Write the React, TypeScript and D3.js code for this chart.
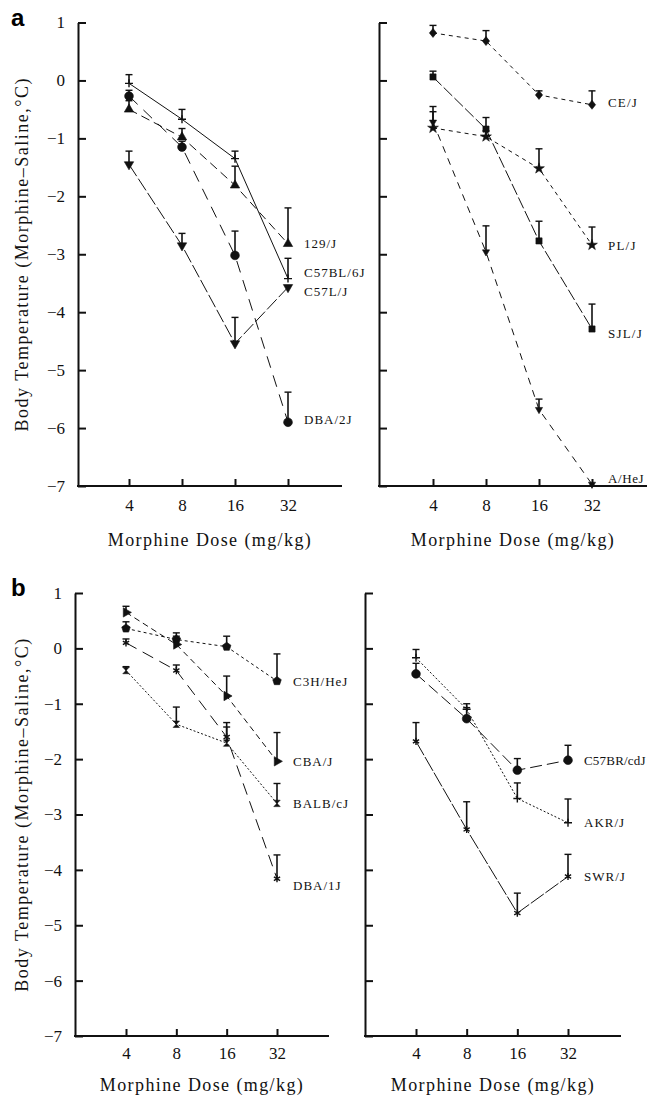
import React, { useEffect, useRef } from "react";
import * as d3 from "d3";

// doses on the x axis (mg/kg), log2 spaced
const doses = [4, 8, 16, 32];
const yTicks = [1, 0, -1, -2, -3, -4, -5, -6, -7];
const xTitle = "Morphine Dose (mg/kg)";
const yTitle = "Body Temperature (Morphine\u2013Saline,\u00B0C)";

// panel a, left
const mean129J = [-0.5, -0.98, -1.81, -2.82];
const sem129J = [0.15, 0.15, 0.33, 0.62];
const meanC57BL6J = [-0.05, -0.67, -1.35, -3.42];
const semC57BL6J = [0.15, 0.17, 0.13, 0.35];
const meanC57LJ = [-1.45, -2.85, -4.54, -3.57];
const semC57LJ = [0.23, 0.21, 0.45, 0];
const meanDBA2J = [-0.27, -1.15, -3.02, -5.9];
const semDBA2J = [0.1, 0.1, 0.42, 0.52];

// panel a, right
const meanCEJ = [0.82, 0.68, -0.25, -0.42];
const semCEJ = [0.13, 0.18, 0.07, 0.24];
const meanSJLJ = [0.06, -0.84, -2.77, -4.29];
const semSJLJ = [0.1, 0.2, 0.34, 0.43];
const meanPLJ = [-0.82, -0.97, -1.52, -2.84];
const semPLJ = [0.28, 0.1, 0.34, 0.31];
const meanAHeJ = [-0.72, -2.96, -5.68, -6.97];
const semAHeJ = [0.27, 0.45, 0.18, 0];

// panel b, left
const meanC3HHeJ = [0.36, 0.16, 0.03, -0.59];
const semC3HHeJ = [0.12, 0.12, 0.19, 0.49];
const meanCBAJ = [0.65, 0.07, -0.86, -2.04];
const semCBAJ = [0.11, 0.15, 0.36, 0.52];
const meanBALBcJ = [-0.4, -1.37, -1.71, -2.8];
const semBALBcJ = [0.07, 0.31, 0.29, 0.36];
const meanDBA1J = [0.1, -0.4, -1.6, -4.16];
const semDBA1J = [0.07, 0.1, 0.26, 0.43];

// panel b, right
const meanC57BRcdJ = [-0.46, -1.27, -2.2, -2.02];
const semC57BRcdJ = [0.19, 0.2, 0.21, 0.27];
const meanAKRJ = [-0.17, -1.1, -2.71, -3.15];
const semAKRJ = [0.15, 0.1, 0.28, 0.43];
const meanSWRJ = [-1.68, -3.27, -4.78, -4.12];
const semSWRJ = [0.34, 0.5, 0.36, 0.4];

const seriesA1 = [
  { name: "129/J", mean: mean129J, sem: sem129J },
  { name: "C57BL/6J", mean: meanC57BL6J, sem: semC57BL6J },
  { name: "C57L/J", mean: meanC57LJ, sem: semC57LJ },
  { name: "DBA/2J", mean: meanDBA2J, sem: semDBA2J },
];
const seriesA2 = [
  { name: "CE/J", mean: meanCEJ, sem: semCEJ },
  { name: "PL/J", mean: meanPLJ, sem: semPLJ },
  { name: "SJL/J", mean: meanSJLJ, sem: semSJLJ },
  { name: "A/HeJ", mean: meanAHeJ, sem: semAHeJ },
];
const seriesB1 = [
  { name: "C3H/HeJ", mean: meanC3HHeJ, sem: semC3HHeJ },
  { name: "CBA/J", mean: meanCBAJ, sem: semCBAJ },
  { name: "BALB/cJ", mean: meanBALBcJ, sem: semBALBcJ },
  { name: "DBA/1J", mean: meanDBA1J, sem: semDBA1J },
];
const seriesB2 = [
  { name: "C57BR/cdJ", mean: meanC57BRcdJ, sem: semC57BRcdJ },
  { name: "AKR/J", mean: meanAKRJ, sem: semAKRJ },
  { name: "SWR/J", mean: meanSWRJ, sem: semSWRJ },
];

// line dash, marker and label nudge per strain
const styles = {
  "129/J": { dash: "9,5", marker: "triUp", dy: 0, ls: 1 },
  "C57BL/6J": { dash: null, marker: "plus", dy: -6, ls: 1 },
  "C57L/J": { dash: "14,3", marker: "triDown", dy: 4, ls: 1 },
  "DBA/2J": { dash: "12,8", marker: "circle", dy: -3, ls: 1 },
  "CE/J": { dash: "4,4", marker: "diamond", dy: -2, ls: 1.2 },
  "PL/J": { dash: "4,4", marker: "star", dy: 0, ls: 1.2 },
  "SJL/J": { dash: "12,3", marker: "square", dy: 4, ls: 1.2 },
  "A/HeJ": { dash: "7,6", marker: "smallTri", dy: -6, ls: 0.6 },
  "C3H/HeJ": { dash: "3,3", marker: "pentagon", dy: 0, ls: 1 },
  "CBA/J": { dash: "6,4", marker: "triRight", dy: 0, ls: 1 },
  "BALB/cJ": { dash: "2,2", marker: "hourglass", dy: 0, ls: 1 },
  "DBA/1J": { dash: "12,7", marker: "asterisk", dy: 7, ls: 1 },
  "C57BR/cdJ": { dash: "12,5", marker: "circle", dy: 0, ls: 0.2 },
  "AKR/J": { dash: "2,2", marker: "plus", dy: 0, ls: 1 },
  "SWR/J": { dash: "16,2", marker: "asterisk", dy: 0, ls: 1 },
};

const panels = [
  { letter: "a", series: seriesA1, x0: 78, x1: 342, x4: 129, x32: 288, yTop: 22.5, yBot: 486, tickLabels: true, pad: 13, title: 60 },
  { letter: null, series: seriesA2, x0: 379, x1: 647, x4: 433, x32: 592, yTop: 22.5, yBot: 486, tickLabels: false, pad: 13, title: 60 },
  { letter: "b", series: seriesB1, x0: 75, x1: 329, x4: 126, x32: 277, yTop: 593, yBot: 1036, tickLabels: true, pad: 11, title: 55 },
  { letter: null, series: seriesB2, x0: 365, x1: 621, x4: 416, x32: 568, yTop: 593, yBot: 1036, tickLabels: false, pad: 11, title: 55 },
];

const serif = "'Liberation Serif', 'Times New Roman', serif";
const ink = "#111";

const markerPath = (kind) => {
  switch (kind) {
    case "triUp":
    case "triDown":
    case "triRight":
      return d3.symbol(d3.symbolTriangle, 38)();
    case "smallTri":
      return d3.symbol(d3.symbolTriangle, 22)();
    case "circle":
      return d3.symbol(d3.symbolCircle, 60)();
    case "square":
      return d3.symbol(d3.symbolSquare, 38)();
    case "diamond":
      return "M0,-4.5L3.6,0L0,4.5L-3.6,0Z";
    case "star":
      return d3.symbol(d3.symbolStar, 36)();
    case "plus":
      return "M-4,0H4M0,-4V4";
    case "asterisk":
      return d3.symbol(d3.symbolAsterisk, 36)();
    case "hourglass":
      return "M-3.2,-3.2H3.2L-3.2,3.2H3.2Z";
    case "pentagon": {
      const pts = d3.range(5).map((i) => {
        const a = -Math.PI / 2 + (i * 2 * Math.PI) / 5;
        return [4.5 * Math.cos(a), 4.5 * Math.sin(a)];
      });
      return d3.line()(pts) + "Z";
    }
    default:
      return d3.symbol(d3.symbolCircle, 30)();
  }
};

const markerRotate = { triDown: 180, triRight: 90, smallTri: 180 };
const strokeOnly = { plus: true, asterisk: true };

const App = () => {
  const svgRef = useRef(null);
  const width = 647;
  const height = 1099;

  useEffect(() => {
    const svg = d3.select(svgRef.current);
    svg.selectAll("*").remove();

    svg.append("rect").attr("width", width).attr("height", height).attr("fill", "#fff");

    panels.forEach((p) => {
      const g = svg.append("g");
      const x = d3.scaleLog().base(2).domain([4, 32]).range([p.x4, p.x32]);
      const y = d3.scaleLinear().domain([-7, 1]).range([p.yBot, p.yTop]);

      // y axis, ticks pointing inward
      const yAxis = g
        .append("g")
        .attr("transform", `translate(${p.x0},0)`)
        .call(
          d3
            .axisLeft(y)
            .tickValues(yTicks)
            .tickSizeInner(-8)
            .tickSizeOuter(0)
            .tickPadding(13)
            .tickFormat((d) => (p.tickLabels ? (d < 0 ? "\u2212" + Math.abs(d) : String(d)) : ""))
        );
      yAxis.select(".domain").attr("stroke", ink).attr("stroke-width", 2);
      yAxis.selectAll(".tick line").attr("stroke", ink).attr("stroke-width", 2);
      yAxis
        .selectAll("text")
        .attr("fill", ink)
        .style("font-family", serif)
        .style("font-size", "17px");

      // x axis
      const xAxis = g
        .append("g")
        .attr("transform", `translate(0,${p.yBot})`)
        .call(
          d3
            .axisBottom(x)
            .tickValues(doses)
            .tickSizeInner(-7)
            .tickSizeOuter(0)
            .tickPadding(p.pad)
            .tickFormat((d) => String(d))
        );
      xAxis.select(".domain").remove();
      xAxis.selectAll(".tick line").attr("stroke", ink).attr("stroke-width", 2);
      xAxis
        .selectAll("text")
        .attr("fill", ink)
        .style("font-family", serif)
        .style("font-size", "17px");
      g.append("line")
        .attr("x1", p.x0 - 1)
        .attr("x2", p.x1)
        .attr("y1", p.yBot)
        .attr("y2", p.yBot)
        .attr("stroke", ink)
        .attr("stroke-width", 2);

      // x axis title
      g.append("text")
        .attr("x", (p.x0 + p.x1) / 2)
        .attr("y", p.yBot + p.title)
        .attr("text-anchor", "middle")
        .attr("fill", ink)
        .style("font-family", serif)
        .style("font-size", "18px")
        .style("letter-spacing", "1.4px")
        .text(xTitle);

      if (p.tickLabels) {
        g.append("text")
          .attr("transform", `translate(28,${(p.yTop + p.yBot) / 2}) rotate(-90)`)
          .attr("text-anchor", "middle")
          .attr("fill", ink)
          .style("font-family", serif)
          .style("font-size", "18px")
          .style("letter-spacing", "1.5px")
          .text(yTitle);
      }

      if (p.letter) {
        g.append("text")
          .attr("x", 11)
          .attr("y", p.yTop + 3)
          .attr("fill", "#000")
          .style("font-family", "'Liberation Sans', Arial, sans-serif")
          .style("font-weight", "bold")
          .style("font-size", "24px")
          .text(p.letter);
      }

      const line = d3
        .line()
        .x((d) => x(d.dose))
        .y((d) => y(d.mean));

      p.series.forEach((s) => {
        const st = styles[s.name];
        const pts = doses.map((dose, i) => ({ dose, mean: s.mean[i], sem: s.sem[i] }));

        g.append("path")
          .datum(pts)
          .attr("d", line)
          .attr("fill", "none")
          .attr("stroke", ink)
          .attr("stroke-width", 1)
          .attr("stroke-dasharray", st.dash);

        // upward error bars with caps
        const eb = g
          .append("g")
          .selectAll("g")
          .data(pts.filter((d) => d.sem > 0))
          .enter()
          .append("g");
        eb.append("line")
          .attr("x1", (d) => x(d.dose))
          .attr("x2", (d) => x(d.dose))
          .attr("y1", (d) => y(d.mean))
          .attr("y2", (d) => y(d.mean + d.sem))
          .attr("stroke", ink)
          .attr("stroke-width", 1.6);
        eb.append("line")
          .attr("x1", (d) => x(d.dose) - 3.5)
          .attr("x2", (d) => x(d.dose) + 3.5)
          .attr("y1", (d) => y(d.mean + d.sem))
          .attr("y2", (d) => y(d.mean + d.sem))
          .attr("stroke", ink)
          .attr("stroke-width", 1.4);

        const hollow = strokeOnly[st.marker];
        g.append("g")
          .selectAll("path")
          .data(pts)
          .enter()
          .append("path")
          .attr("d", markerPath(st.marker))
          .attr(
            "transform",
            (d) => `translate(${x(d.dose)},${y(d.mean)}) rotate(${markerRotate[st.marker] || 0})`
          )
          .attr("fill", hollow ? "none" : ink)
          .attr("stroke", ink)
          .attr("stroke-width", hollow ? 1.4 : 0.6);

        const last = pts[pts.length - 1];
        g.append("text")
          .attr("x", x(32) + 16)
          .attr("y", y(last.mean) + st.dy)
          .attr("dy", "0.35em")
          .attr("fill", ink)
          .style("font-family", serif)
          .style("font-size", "13px")
          .style("letter-spacing", `${st.ls}px`)
          .text(s.name);
      });
    });
  }, []);

  return (
    <svg
      ref={svgRef}
      width={width}
      height={height}
      style={{ position: "absolute", left: 0, top: 0, display: "block" }}
    ></svg>
  );
};

export default App;
